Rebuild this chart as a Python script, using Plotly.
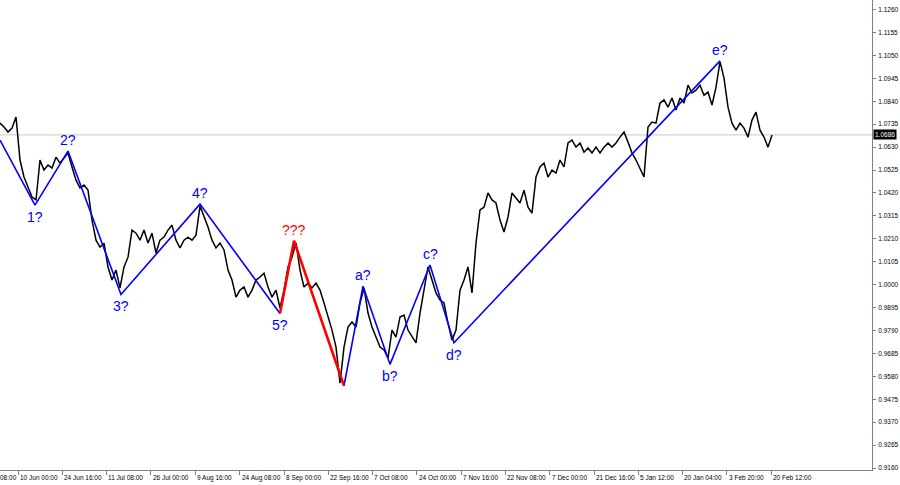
import plotly.graph_objects as go

# ---------------- data ----------------
# H4 price path, sampled at regular bar steps
price = [
    1.0740, 1.0722, 1.0699, 1.0717, 1.0768, 1.0571, 1.0493, 1.0447, 1.0401, 1.0388,
    1.0571, 1.0525, 1.0548, 1.0534, 1.0584, 1.0557, 1.0580, 1.0603, 1.0539, 1.0479,
    1.0443, 1.0456, 1.0433, 1.0296, 1.0204, 1.0172, 1.0190, 1.0081, 1.0021, 1.0067,
    0.9985, 1.0081, 1.0126, 1.0250, 1.0236, 1.0204, 1.0250, 1.0191, 1.0236, 1.0145,
    1.0204, 1.0218, 1.0250, 1.0273,
    1.0204, 1.0168, 1.0204, 1.0218, 1.0204, 1.0227, 1.0360, 1.0310, 1.0264, 1.0204,
    1.0168, 1.0191, 1.0159, 1.0067, 1.0021, 0.9943, 0.9975, 0.9989, 0.9943, 0.9975,
    1.0021, 1.0035, 1.0053, 0.9989, 0.9943, 0.9975, 0.9893, 0.9975, 1.0081, 1.0126,
    1.0191, 1.0067, 0.9989, 1.0007, 0.9985, 1.0007, 0.9975, 0.9916, 0.9852, 0.9792,
    0.9714, 0.9549,
    0.9714, 0.9806, 0.9829, 0.9806, 0.9916, 0.9985, 0.9870, 0.9806, 0.9760, 0.9714,
    0.9701, 0.9664, 0.9792, 0.9760, 0.9852, 0.9861, 0.9792, 0.9760, 0.9733, 0.9870,
    0.9975, 1.0081, 1.0021, 0.9962, 0.9930, 0.9916, 0.9824, 0.9746, 0.9792, 0.9975,
    1.0021, 1.0081, 0.9962, 1.0191,
    1.0342, 1.0355, 1.0420, 1.0388, 1.0374, 1.0296, 1.0241, 1.0310, 1.0420, 1.0397,
    1.0374, 1.0433, 1.0355, 1.0328, 1.0493, 1.0539, 1.0557, 1.0493, 1.0525, 1.0511,
    1.0571, 1.0539, 1.0649, 1.0662, 1.0630, 1.0649, 1.0607, 1.0626, 1.0603, 1.0630,
    1.0603, 1.0630, 1.0649, 1.0630, 1.0649, 1.0676, 1.0699, 1.0653, 1.0603, 1.0571,
    1.0534, 1.0493, 1.0722, 1.0745, 1.0740, 1.0832, 1.0846, 1.0813, 1.0855, 1.0800,
    1.0855, 1.0832, 1.0914, 1.0878, 1.0891, 1.0914, 1.0868, 1.0882, 1.0823, 1.0905,
    1.1022, 1.0946, 1.0813, 1.0740, 1.0708, 1.0740, 1.0717, 1.0676, 1.0754, 1.0790,
    1.0708, 1.0676, 1.0630, 1.0686,
]
bars = list(range(len(price)))

# time-axis tick positions (in bar units) and labels
tick_bars = [4.5, 15.6, 26.6, 37.7, 48.8, 59.9, 71.0, 82.0, 93.1,
             104.2, 115.3, 126.3, 137.4, 148.5, 159.6, 170.6, 181.7, 192.8]
tick_labels = ["10 Jun 00:00", "24 Jun 16:00", "11 Jul 08:00", "26 Jul 00:00",
               "9 Aug 16:00", "24 Aug 08:00", "8 Sep 00:00", "22 Sep 16:00",
               "7 Oct 08:00", "24 Oct 00:00", "7 Nov 16:00", "22 Nov 08:00",
               "7 Dec 00:00", "21 Dec 16:00", "5 Jan 12:00", "20 Jan 04:00",
               "3 Feb 20:00", "20 Feb 12:00"]
partial_label = "08:00"

# wave markup
wave1_bars = [0, 8.75, 17, 30.25, 50, 70]
wave1_prices = [1.0662, 1.0364, 1.0612, 0.9955, 1.0369, 0.9868]
wave1_labels = ["", "1?", "2?", "3?", "4?", "5?"]

red_bars = [70, 73.5, 86]
red_prices = [0.9868, 1.0201, 0.9537]
red_labels = ["", "???", ""]

wave2_bars = [86, 90.75, 97.5, 107.5, 113.5, 180]
wave2_prices = [0.9537, 0.9993, 0.9635, 1.0090, 0.9734, 1.1025]
wave2_labels = ["", "a?", "b?", "c?", "d?", "e?"]

# ---------------- figure ----------------
BLUE = "#0000ff"
RED = "#ff0000"
FONT = "Liberation Sans, Arial, sans-serif"

fig = go.Figure()

fig.add_trace(go.Scatter(x=bars, y=price, mode="lines",
                         line=dict(color="black", width=1.5),
                         hoverinfo="skip", showlegend=False))

fig.add_trace(go.Scatter(x=wave1_bars, y=wave1_prices, mode="lines",
                         line=dict(color=BLUE, width=1.6), showlegend=False))
fig.add_trace(go.Scatter(x=wave2_bars, y=wave2_prices, mode="lines",
                         line=dict(color=BLUE, width=1.6), showlegend=False))
fig.add_trace(go.Scatter(x=red_bars, y=red_prices, mode="lines",
                         line=dict(color=RED, width=2.6), showlegend=False))

annotations = []


def add_wave_labels(xs, ys, labels, color):
    for i, (x, y, t) in enumerate(zip(xs, ys, labels)):
        if not t:
            continue
        prev_y = ys[i - 1] if i > 0 else None
        is_peak = prev_y is not None and y > prev_y
        annotations.append(dict(
            x=x, y=y, xref="x", yref="y", text=t, showarrow=False,
            font=dict(family=FONT, size=14, color=color),
            xanchor="center", yanchor="middle",
            yshift=11 if is_peak else -12,
        ))


add_wave_labels(wave1_bars, wave1_prices, wave1_labels, BLUE)
add_wave_labels(red_bars, red_prices, red_labels, RED)
add_wave_labels(wave2_bars, wave2_prices, wave2_labels, BLUE)

LBL = dict(family=FONT, size=6.5, color="black")

# bottom time labels, left aligned at their tick (MetaTrader style)
for tb, tl in zip(tick_bars, tick_labels):
    annotations.append(dict(
        x=tb, y=0, xref="x", yref="paper", text=tl, showarrow=False,
        font=LBL, xanchor="left", yanchor="top", xshift=0, yshift=-2,
    ))
# tail of the previous label at the left edge
annotations.append(dict(
    x=0, y=0, xref="paper", yref="paper", text=partial_label, showarrow=False,
    font=LBL, xanchor="left", yanchor="top", xshift=-2, yshift=-2,
))

# current price tag
last = price[-1]
annotations.append(dict(
    x=1, y=last, xref="paper", yref="y", text=f"{last:.4f}", showarrow=False,
    font=dict(family=FONT, size=6.5, color="white"),
    bgcolor="black", borderpad=1, xanchor="left", yanchor="middle", xshift=1,
))

fig.add_shape(type="line", xref="paper", yref="y", x0=0, x1=1, y0=last, y1=last,
              line=dict(color="#c8c8c8", width=1), layer="below")

fig.update_layout(
    width=900, height=485,
    margin=dict(l=0, r=28, t=0, b=15),
    paper_bgcolor="white", plot_bgcolor="white",
    showlegend=False,
    annotations=annotations,
    xaxis=dict(range=[0, 218], tickvals=tick_bars, showticklabels=False,
               ticks="outside", ticklen=4, tickcolor="#808080",
               showline=True, linecolor="#808080", linewidth=1,
               showgrid=False, zeroline=False, fixedrange=True),
    yaxis=dict(side="right", range=[0.9151, 1.1304],
               tick0=0.9160, dtick=0.0105, tickformat=".4f",
               ticks="outside", ticklen=3, tickcolor="#808080",
               ticklabelstandoff=1,
               tickfont=dict(family=FONT, size=6.5, color="black"),
               showline=True, linecolor="#808080", linewidth=1,
               showgrid=False, zeroline=False, fixedrange=True),
)

# remove the default page margin so the 900x485 figure fills the window exactly
fig.write_html("out.html",
               config={"displayModeBar": False},
               post_script="document.body.style.margin='0px';"
                           "document.body.style.overflow='hidden';")
